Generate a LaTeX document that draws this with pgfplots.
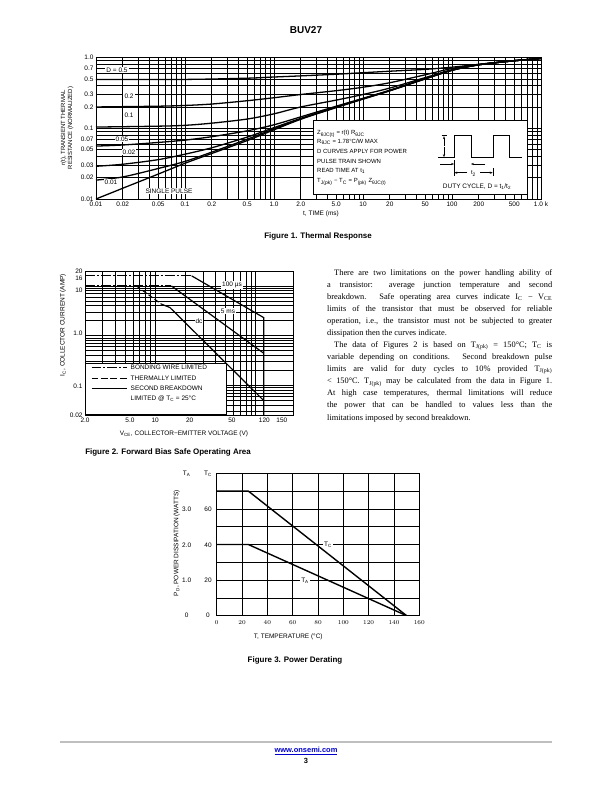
\documentclass[border=0pt]{standalone}
\usepackage{fontspec}
\setmainfont{Liberation Sans}
\newfontfamily\serif{Liberation Serif}
\usepackage{pgfplots}
\pgfplotsset{compat=1.18}
\usetikzlibrary{arrows.meta}
\newcommand{\fs}[1]{\fontsize{#1}{#1}\selectfont}
\pgfplotstableread{
x y
0.01 0.0100
0.02 0.0142
0.05 0.0225
0.1 0.032
0.2 0.044
0.5 0.067
1 0.095
2 0.134
5 0.196
10 0.258
20 0.338
50 0.498
100 0.658
200 0.788
500 0.90
1000 0.97
}\single
\pgfplotstableread{
x y
0.01 0.0185
0.02 0.0205
0.05 0.027
0.1 0.034
0.2 0.046
0.5 0.070
1 0.098
2 0.136
5 0.198
10 0.260
20 0.340
50 0.500
100 0.660
200 0.790
500 0.90
1000 0.97
}\dA
\pgfplotstableread{
x y
0.01 0.029
0.02 0.031
0.05 0.036
0.1 0.043
0.2 0.053
0.5 0.075
1 0.102
2 0.138
5 0.200
10 0.262
20 0.342
50 0.502
100 0.662
200 0.790
500 0.90
1000 0.97
}\dB
\pgfplotstableread{
x y
0.01 0.056
0.02 0.058
0.05 0.063
0.1 0.068
0.2 0.076
0.5 0.092
1 0.112
2 0.145
5 0.205
10 0.265
20 0.345
50 0.505
100 0.665
200 0.790
500 0.90
1000 0.97
}\dC
\pgfplotstableread{
x y
0.01 0.104
0.05 0.107
0.1 0.110
0.2 0.118
0.5 0.135
1 0.160
2 0.200
5 0.250
10 0.300
20 0.370
50 0.520
100 0.670
200 0.790
500 0.90
1000 0.97
}\dD
\pgfplotstableread{
x y
0.01 0.200
0.05 0.205
0.1 0.210
0.2 0.220
0.5 0.245
1 0.270
2 0.300
5 0.340
10 0.380
20 0.440
50 0.570
100 0.700
200 0.800
500 0.90
1000 0.97
}\dE
\pgfplotstableread{
x y
0.01 0.49
0.1 0.49
0.5 0.51
1 0.53
2 0.55
5 0.58
10 0.61
20 0.64
50 0.68
100 0.73
200 0.80
500 0.90
1000 0.97
}\dF
\begin{document}
\begin{tikzpicture}[x=1bp,y=-1bp]
\useasboundingbox (0,0) rectangle (612,792);
\fill[white] (0,0) rectangle (612,792);
\node[font=\bfseries\fs{10}] at (306,30) {BUV27};
% ---------------- Figure 1
\begin{axis}[at={(96bp,-199bp)}, anchor=south west, scale only axis,
  width=445bp, height=141.5bp, xmode=log, ymode=log,
  xmin=0.01, xmax=1000, ymin=0.01, ymax=1,
  axis line style={line width=0.9pt},
  major tick length=0pt, minor tick length=0pt,
  xtick={0.01,0.02,0.05,0.1,0.2,0.5,1,2,5,10,20,50,100,200,500,1000},
  xticklabels={0.01,0.02,0.05,0.1,0.2,0.5,1.0,2.0,5.0,10,20,50,100,200,500,1.0 k},
  ytick={0.01,0.02,0.03,0.05,0.07,0.1,0.2,0.3,0.5,0.7,1},
  yticklabels={0.01,0.02,0.03,0.05,0.07,0.1,0.2,0.3,0.5,0.7,1.0},
  minor xtick={0.03,0.04,0.06,0.07,0.08,0.09,0.3,0.4,0.6,0.7,0.8,0.9,3,4,6,7,8,9,30,40,60,70,80,90,300,400,600,700,800,900},
  minor ytick={0.04,0.06,0.08,0.09,0.4,0.6,0.8,0.9},
  grid=both, major grid style={black,line width=0.6pt}, minor grid style={black,line width=0.6pt},
  tick label style={font=\fs{6.5}},
  xticklabel style={yshift=1pt}, yticklabel style={xshift=1pt}]
\addplot[black, line width=1.3pt, smooth] table {\single};
\addplot[black, line width=1.3pt, smooth] table {\dA};
\addplot[black, line width=1.3pt, smooth] table {\dB};
\addplot[black, line width=1.3pt, smooth] table {\dC};
\addplot[black, line width=1.3pt, smooth] table {\dD};
\addplot[black, line width=1.3pt, smooth] table {\dE};
\addplot[black, line width=1.3pt, smooth] table {\dF};
\end{axis}
\begin{scope}[every node/.style={fill=white, inner sep=1.2pt, font=\fs{6.5}}]
\node at (117,70) {D = 0.5};
\node at (129,96) {0.2};
\node at (129,115) {0.1};
\node at (122,139) {0.05};
\node at (129,152) {0.02};
\node at (111,182) {0.01};
\node at (169,191) {SINGLE PULSE};
\end{scope}
\draw[fill=white, line width=0.8pt] (313,120) rectangle (527,194);
\begin{scope}[every node/.style={anchor=west, inner sep=0pt, font=\fs{6}}]
\node at (317,134) {Z\textsubscript{θJC(t)} = r(t) R\textsubscript{θJC}};
\node at (317,142) {R\textsubscript{θJC} = 1.78°C/W MAX};
\node at (317,151) {D CURVES APPLY FOR POWER};
\node at (317,161) {PULSE TRAIN SHOWN};
\node at (317,171) {READ TIME AT t\textsubscript{1}};
\node at (317,182) {T\textsubscript{J(pk)} − T\textsubscript{C} = P\textsubscript{(pk)} Z\textsubscript{θJC(t)}};
\end{scope}
\draw[line width=0.7pt] (438,157.7) -- (454,157.7) -- (454,135.7) -- (471,135.7) -- (471,157.7) -- (493,157.7) -- (493,135.7) -- (509,135.7) -- (509,157.7) -- (522,157.7);
\draw[line width=0.5pt] (441.5,135.7) -- (446.5,135.7) (441.5,157.7) -- (446.5,157.7);
\draw[line width=0.5pt, -{Stealth[length=3pt]}] (444,146) -- (444,136.2);
\draw[line width=0.5pt, -{Stealth[length=3pt]}] (444,147) -- (444,157.2);
\draw[line width=0.5pt, -{Stealth[length=3pt]}] (440,164) -- (454,164);
\draw[line width=0.5pt, -{Stealth[length=3pt]}] (485,164) -- (471,164);
\draw[line width=0.5pt] (454,160) -- (454,176) (493,168) -- (493,176);
\draw[line width=0.5pt, -{Stealth[length=3pt]}] (467,172.7) -- (454.3,172.7);
\draw[line width=0.5pt, -{Stealth[length=3pt]}] (480,172.7) -- (492.7,172.7);
\node[font=\fs{6}, inner sep=0pt] at (473.5,173.5) {t\textsubscript{2}};
\node[font=\fs{6.5}] at (477,187) {DUTY CYCLE, D = t\textsubscript{1}/t\textsubscript{2}};
\node[rotate=90, align=center, font=\fs{6}, inner sep=0pt] at (67,128) {r(t), TRANSIENT THERMAL\\[1pt]RESISTANCE (NORMALIZED)};
\node[font=\fs{6.5}] at (321,214) {t, TIME (ms)};
\node[font=\bfseries\fs{8}] at (318,236) {Figure 1. Thermal Response};
% ---------------- Figure 2
\begin{axis}[at={(85bp,-415bp)}, anchor=south west, scale only axis,
  width=208bp, height=144bp, xmode=log, ymode=log,
  xmin=2, xmax=235, ymin=0.025, ymax=20,
  axis line style={line width=0.9pt},
  major tick length=0pt, minor tick length=0pt,
  xtick={2,5.6,10,22,58,122,182}, xticklabels={2.0,5.0,10,20,50,120,150},
  ytick={0.025,0.0955,1.12,8.27,14.4,20}, yticklabels={0.02,0.1,1.0,10,16,20},
  minor xtick={3,4,5,6,7,8,9,10,20,30,40,50,60,70,80,90,100},
  minor ytick={0.03,0.04,0.05,0.06,0.07,0.08,0.09,0.1,0.2,0.3,0.4,0.5,0.6,0.7,0.8,0.9,1,2,3,4,5,6,7,8,9,10},
  xmajorgrids=false, ymajorgrids=false, xminorgrids=true, yminorgrids=true,
  minor grid style={black,line width=0.6pt},
  tick label style={font=\fs{6.5}},
  xticklabel style={yshift=1pt}, yticklabel style={xshift=1pt}]
\addplot[black, line width=1.1pt, dash pattern=on 10pt off 2pt on 2pt off 2pt] coordinates {(2,16) (23,16)};
\addplot[black, line width=1.2pt] coordinates {(23,16) (120,2.3) (120,0.025)};
\addplot[black, line width=1.1pt, dash pattern=on 10pt off 2pt on 2pt off 2pt] coordinates {(2,10) (14.5,10)};
\addplot[black, line width=1.2pt] coordinates {(14.5,10) (120,0.44)};
\addplot[black, line width=1.1pt, dash pattern=on 5pt off 2.5pt] coordinates {(6.5,10) (11.5,4.3)};
\addplot[black, line width=1.2pt] coordinates {(11.5,4.3) (14,3.67) (120,0.049)};
\end{axis}
\begin{scope}[every node/.style={fill=white, inner sep=1pt, font=\fs{6.5}}]
\node at (232,285) {100 µs};
\node at (228,311) {5 ms};
\node at (199,321) {dc};
\end{scope}
\draw[fill=white, line width=0.8pt] (85.3,363) rectangle (226,414.5);
\draw[line width=0.9pt, dash pattern=on 10pt off 2pt on 2pt off 2pt] (91.5,367.5) -- (126.5,367.5);
\draw[line width=0.9pt, dash pattern=on 7pt off 2.5pt] (91.5,378) -- (126.5,378);
\draw[line width=0.9pt] (91.5,388) -- (126.5,388);
\begin{scope}[every node/.style={anchor=west, inner sep=0pt, font=\fs{6.5}}]
\node at (130.5,367.5) {BONDING WIRE LIMITED};
\node at (130.5,378) {THERMALLY LIMITED};
\node at (130.5,388) {SECOND BREAKDOWN};
\node at (130.5,399) {LIMITED @ T\textsubscript{C} = 25°C};
\end{scope}
\node[rotate=90, font=\fs{6.5}, inner sep=0pt] at (63,325) {I\textsubscript{C}, COLLECTOR CURRENT (AMP)};
\node[font=\fs{6.5}] at (184,434) {V\textsubscript{CE}, COLLECTOR−EMITTER VOLTAGE (V)};
\node[font=\bfseries\fs{8}] at (168,452) {Figure 2. Forward Bias Safe Operating Area};
% ---------------- body text
\begin{scope}[every node/.style={anchor=base west, inner sep=0pt, font=\serif\fs{8.4}}]
\node at (334,275.0) {\makebox[218bp][s]{There are two limitations on the power handling ability of}};
\node at (327,287.1) {\makebox[225bp][s]{a transistor: average junction temperature and second}};
\node at (327,299.2) {\makebox[225bp][s]{breakdown. Safe operating area curves indicate I\textsubscript{C} − V\textsubscript{CE}}};
\node at (327,311.2) {\makebox[225bp][s]{limits of the transistor that must be observed for reliable}};
\node at (327,323.3) {\makebox[225bp][s]{operation, i.e., the transistor must not be subjected to greater}};
\node at (327,335.4) {dissipation then the curves indicate.};
\node at (334,347.5) {\makebox[218bp][s]{The data of Figures 2 is based on T\textsubscript{J(pk)} = 150°C; T\textsubscript{C} is}};
\node at (327,359.6) {\makebox[225bp][s]{variable depending on conditions. Second breakdown pulse}};
\node at (327,371.6) {\makebox[225bp][s]{limits are valid for duty cycles to 10\% provided T\textsubscript{J(pk)}}};
\node at (327,383.7) {\makebox[225bp][s]{< 150°C. T\textsubscript{J(pk)} may be calculated from the data in Figure 1.}};
\node at (327,395.8) {\makebox[225bp][s]{At high case temperatures, thermal limitations will reduce}};
\node at (327,407.9) {\makebox[225bp][s]{the power that can be handled to values less than the}};
\node at (327,420.0) {limitations imposed by second breakdown.};
\end{scope}
% ---------------- Figure 3
\begin{axis}[at={(216.7bp,-615.7bp)}, anchor=south west, scale only axis,
  width=202.6bp, height=142.4bp,
  xmin=0, xmax=160, ymin=0, ymax=80,
  axis line style={line width=0.9pt},
  major tick length=0pt, minor tick length=0pt,
  xtick={0,20,...,160}, ytick={20,30,40,50,70}, yticklabel=\empty,
  extra y ticks={10,60}, extra y tick labels={},
  extra y tick style={grid style={gray!70,line width=0.8pt}},
  grid=major, major grid style={black,line width=0.7pt},
  tick label style={font=\fs{6.5}},
  xticklabel style={yshift=-1pt}]
\addplot[black, line width=1.4pt] coordinates {(0,70) (25,70) (150,0)};
\addplot[black, line width=1.4pt] coordinates {(0,40) (25,40) (150,0)};
\end{axis}
\begin{scope}[every node/.style={fill=white, inner sep=1pt, font=\fs{6.5}}]
\node at (328,545) {T\textsubscript{C}};
\node at (305,581) {T\textsubscript{A}};
\end{scope}
\begin{scope}[every node/.style={font=\fs{6.5}, inner sep=0pt}]
\node at (186.7,474) {T\textsubscript{A}};
\node at (208,474) {T\textsubscript{C}};
\node at (186.7,509) {3.0};
\node at (186.7,545) {2.0};
\node at (186.7,580.7) {1.0};
\node at (186.7,615.7) {0};
\node at (208,509) {60};
\node at (208,545) {40};
\node at (208,580.7) {20};
\node at (208,615.7) {0};
\end{scope}
\node[rotate=90, font=\fs{6.5}, inner sep=0pt] at (176.7,543) {P\textsubscript{D}, POWER DISSIPATION (WATTS)};
\node[font=\fs{6.5}] at (288.3,636.7) {T, TEMPERATURE (°C)};
\node[font=\bfseries\fs{8}] at (295,660) {Figure 3. Power Derating};
% ---------------- footer
\draw[gray!50, line width=1.5pt] (60,742) -- (552,742);
\node[font=\bfseries\fs{7.5}, text=blue!80!black] at (306,751) {\underline{www.onsemi.com}};
\node[font=\bfseries\fs{7.5}] at (306,760.5) {3};
\end{tikzpicture}
\end{document}
